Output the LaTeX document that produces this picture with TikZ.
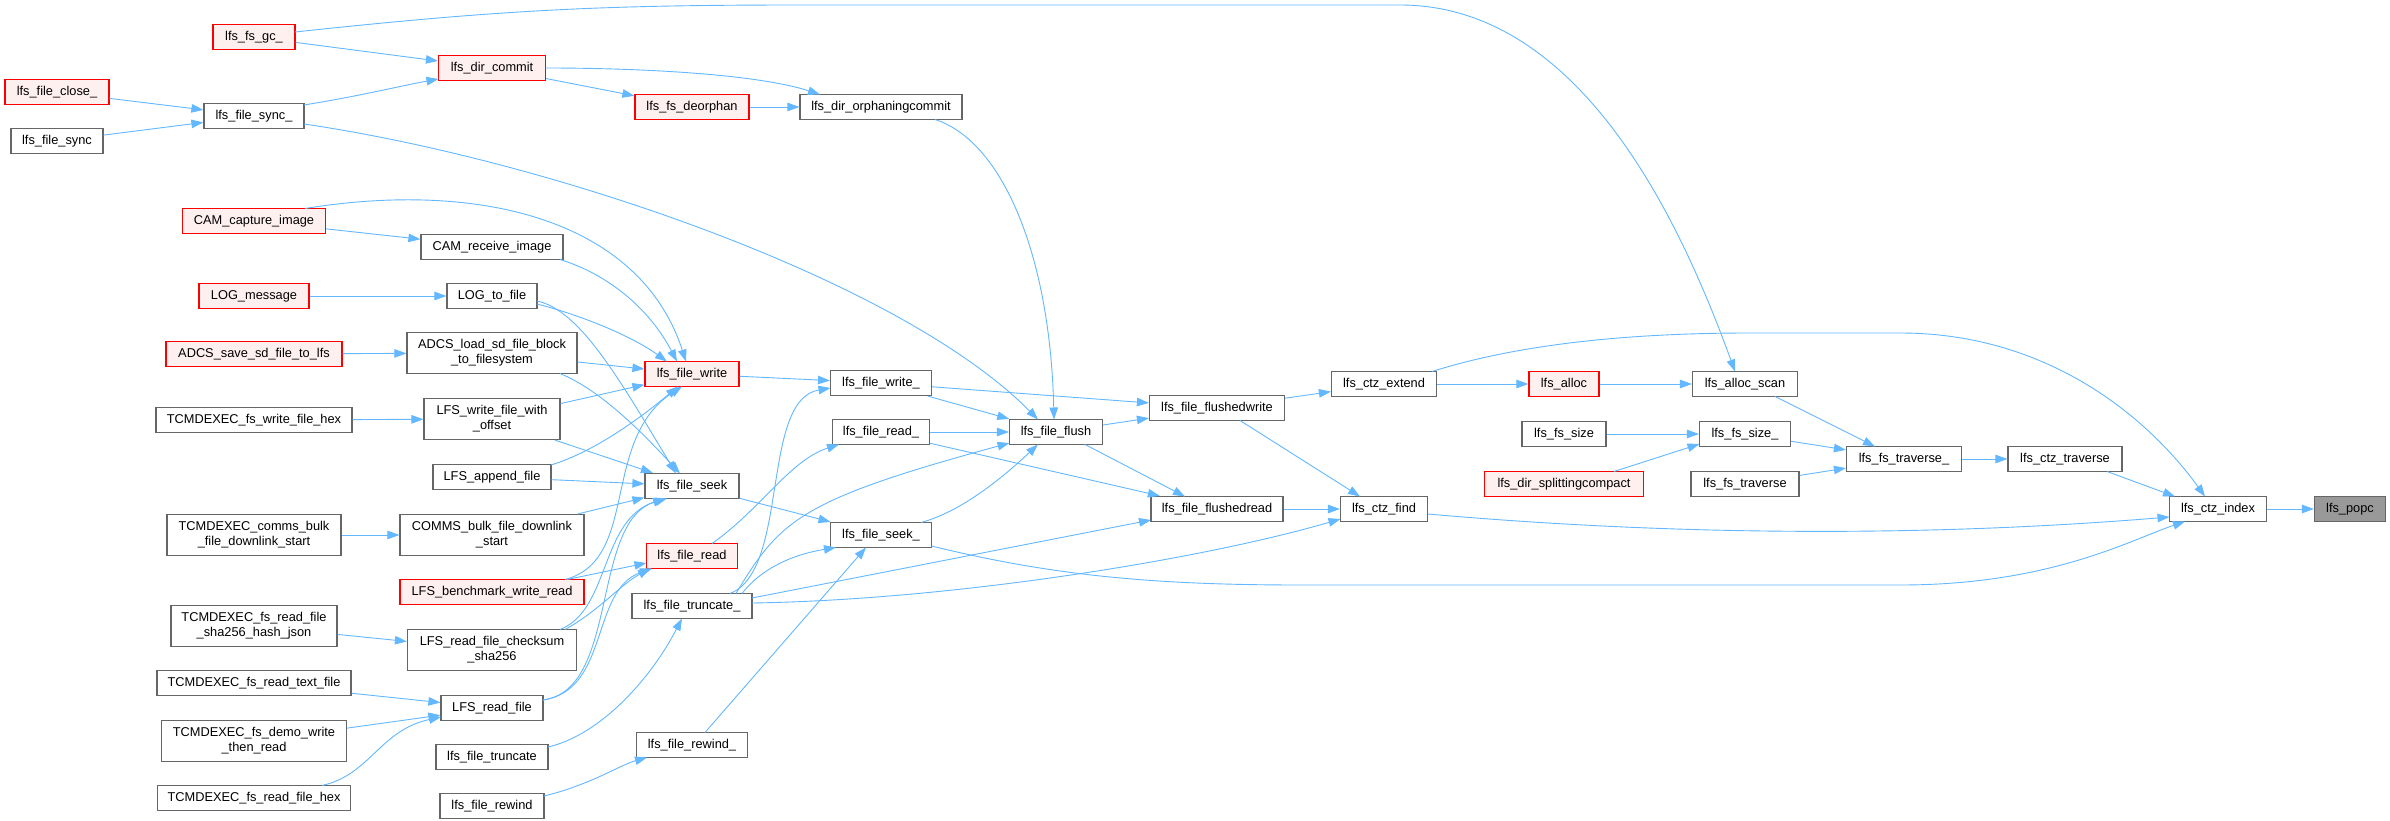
\documentclass[tikz,border=0pt]{standalone}
\usepackage{fontspec}
\setmainfont{Liberation Sans}
\usetikzlibrary{arrows.meta,calc}
\definecolor{edgeblue}{HTML}{63B8FF}
\definecolor{boxgray}{HTML}{666666}
\definecolor{redfill}{HTML}{FFF0F0}
\definecolor{curfill}{HTML}{999999}
\newcommand\dxfont{\fontsize{12.8}{15}\selectfont}
\tikzset{
  fn/.style={draw=boxgray, fill=white, line width=1.2pt, minimum height=25pt, inner sep=0pt, font=\dxfont, align=center, text=black},
  fntwo/.style={fn, minimum height=41pt},
  fnred/.style={fn, draw=red, fill=redfill},
  fncur/.style={fn, fill=curfill},
  edge/.style={draw=edgeblue, line width=0.9pt, -{Triangle[length=12pt,width=8.5pt]}}
}
\begin{document}
\begin{tikzpicture}[x=1pt,y=-1pt]
\useasboundingbox[fill=white] (0,0) rectangle (2390,821);
% column 1
\node[fnred, minimum width=82pt] (gc) at (254,37) {lfs\_fs\_gc\_};
\node[fnred, minimum width=104pt] (close) at (57,92) {lfs\_file\_close\_};
\node[fn, minimum width=92pt] (fsync) at (57,141) {lfs\_file\_sync};
\node[fn, minimum width=100pt] (sync_) at (254,116) {lfs\_file\_sync\_};
\node[fnred, minimum width=143pt] (camcap) at (254,221) {CAM\_capture\_image};
\node[fnred, minimum width=110pt] (logmsg) at (254,296) {LOG\_message};
\node[fnred, minimum width=176pt] (adcssave) at (254,354) {ADCS\_save\_sd\_file\_to\_lfs};
\node[fn, minimum width=196pt] (tcwrite) at (254,420) {TCMDEXEC\_fs\_write\_file\_hex};
\node[fntwo, minimum width=174pt] (tcbulk) at (254,535) {TCMDEXEC\_comms\_bulk\\\_file\_downlink\_start};
\node[fntwo, minimum width=166pt] (tcsha) at (254,626) {TCMDEXEC\_fs\_read\_file\\\_sha256\_hash\_json};
\node[fn, minimum width=194pt] (tctext) at (254,683) {TCMDEXEC\_fs\_read\_text\_file};
\node[fntwo, minimum width=185pt] (tcdemo) at (254,741) {TCMDEXEC\_fs\_demo\_write\\\_then\_read};
\node[fn, minimum width=193pt] (tchex) at (254,798) {TCMDEXEC\_fs\_read\_file\_hex};
% column 2
\node[fnred, minimum width=107pt] (dircommit) at (492,68) {lfs\_dir\_commit};
\node[fn, minimum width=142pt] (camrecv) at (492,247) {CAM\_receive\_image};
\node[fn, minimum width=90pt] (logfile) at (492,296) {LOG\_to\_file};
\node[fntwo, minimum width=170pt] (adcsload) at (492,353) {ADCS\_load\_sd\_file\_block\\\_to\_filesystem};
\node[fntwo, minimum width=136pt] (lfswo) at (492,419) {LFS\_write\_file\_with\\\_offset};
\node[fn, minimum width=118pt] (append) at (492,477) {LFS\_append\_file};
\node[fntwo, minimum width=184pt] (commsbulk) at (492,535) {COMMS\_bulk\_file\_downlink\\\_start};
\node[fnred, minimum width=184pt] (bench) at (492,592) {LFS\_benchmark\_write\_read};
\node[fntwo, minimum width=169pt] (checksum) at (492,650) {LFS\_read\_file\_checksum\\\_sha256};
\node[fn, minimum width=102pt] (readfile) at (492,708) {LFS\_read\_file};
\node[fn, minimum width=112pt] (trunc) at (492,757) {lfs\_file\_truncate};
\node[fn, minimum width=104pt] (rewind) at (492,806) {lfs\_file\_rewind};
% column 3
\node[fnred, minimum width=114pt] (deorphan) at (692,107) {lfs\_fs\_deorphan};
\node[fnred, minimum width=94pt] (fwrite) at (692,374) {lfs\_file\_write};
\node[fn, minimum width=94pt] (fseek) at (692,486) {lfs\_file\_seek};
\node[fnred, minimum width=91pt] (fread) at (692,556) {lfs\_file\_read};
\node[fn, minimum width=120pt] (trunc_) at (692,606) {lfs\_file\_truncate\_};
\node[fn, minimum width=111pt] (rewind_) at (692,745) {lfs\_file\_rewind\_};
% column 4
\node[fn, minimum width=162pt] (orphan) at (881,107) {lfs\_dir\_orphaningcommit};
\node[fn, minimum width=101pt] (write_) at (881,383) {lfs\_file\_write\_};
\node[fn, minimum width=97pt] (read_) at (881,432) {lfs\_file\_read\_};
\node[fn, minimum width=101pt] (seek_) at (881,535) {lfs\_file\_seek\_};
% column 5+
\node[fn, minimum width=93pt] (flush) at (1056,432) {lfs\_file\_flush};
\node[fn, minimum width=135pt] (fwd) at (1217,408) {lfs\_file\_flushedwrite};
\node[fn, minimum width=132pt] (frd) at (1217,509) {lfs\_file\_flushedread};
\node[fn, minimum width=105pt] (extend) at (1384,384) {lfs\_ctz\_extend};
\node[fn, minimum width=87pt] (find) at (1384,509) {lfs\_ctz\_find};
\node[fnred, minimum width=70pt] (alloc) at (1564,384) {lfs\_alloc};
\node[fn, minimum width=84pt] (fssize) at (1564,434) {lfs\_fs\_size};
\node[fnred, minimum width=159pt] (split) at (1564,484) {lfs\_dir\_splittingcompact};
\node[fn, minimum width=105pt] (allocscan) at (1745,384) {lfs\_alloc\_scan};
\node[fn, minimum width=91pt] (fssize_) at (1745,434) {lfs\_fs\_size\_};
\node[fn, minimum width=108pt] (fstrav) at (1745,484) {lfs\_fs\_traverse};
\node[fn, minimum width=115pt] (fstrav_) at (1904,459) {lfs\_fs\_traverse\_};
\node[fn, minimum width=114pt] (ctztrav) at (2065,459) {lfs\_ctz\_traverse};
\node[fn, minimum width=97pt] (ctzindex) at (2218,509) {lfs\_ctz\_index};
\node[fncur, minimum width=71pt] (popc) at (2350,509) {lfs\_popc};

% straight edges
\draw[edge] (close) -- (sync_);
\draw[edge] (fsync) -- (sync_);
\draw[edge] (gc) -- (dircommit);
\draw[edge] (dircommit) -- (deorphan);
\draw[edge] (deorphan) -- (orphan);
\draw[edge] (camcap) -- (camrecv);
\draw[edge] (logmsg) -- (logfile);
\draw[edge] (adcssave) -- (adcsload);
\draw[edge] (adcsload) -- (fwrite);
\draw[edge] (tcwrite) -- (lfswo);
\draw[edge] (lfswo) -- (fwrite);
\draw[edge] (lfswo) -- (fseek);
\draw[edge] (append) -- (fseek);
\draw[edge] (tcbulk) -- (commsbulk);
\draw[edge] (commsbulk) -- (fseek);
\draw[edge] (tcsha) -- (checksum);
\draw[edge] (tctext) -- (readfile);
\draw[edge] (tcdemo) -- (readfile);
\draw[edge] (fwrite) -- (write_);
\draw[edge] (fseek) -- (seek_);
\draw[edge] (write_) -- (flush);
\draw[edge] (write_) -- (fwd);
\draw[edge] (read_) -- (flush);
\draw[edge] (read_) -- (frd);
\draw[edge] (flush) -- (fwd);
\draw[edge] (fwd) -- (extend);
\draw[edge] (frd) -- (find);
\draw[edge] (extend) -- (alloc);
\draw[edge] (alloc) -- (allocscan);
\draw[edge] (fssize) -- (fssize_);
\draw[edge] (fssize_) -- (fstrav_);
\draw[edge] (fstrav) -- (fstrav_);
\draw[edge] (fstrav_) -- (ctztrav);
\draw[edge] (ctzindex) -- (popc);

% curved / offset edges
\draw[edge] ($(gc)+(41,-5)$) .. controls (500,10) and (600,5) .. (800,5) -- (1400,5) .. controls (1580,5) and (1680,220) .. ($(allocscan)+(-10,-12.5)$);
\draw[edge] ($(sync_)+(50,-11)$) .. controls (360,96) and (400,86) .. ($(dircommit)+(-53.5,11)$);
\draw[edge] ($(sync_)+(50,8)$) .. controls (550,160) and (900,280) .. ($(flush)+(-18,-12.5)$);
\draw[edge] ($(dircommit)+(53.5,0)$) .. controls (650,68) and (760,75) .. ($(orphan)+(-61,-12.5)$);
\draw[edge] ($(orphan)+(54,12.5)$) .. controls (1000,140) and (1050,250) .. ($(flush)+(-2,-12.5)$);
\draw[edge] ($(camcap)+(51,-12.5)$) .. controls (480,180) and (640,220) .. ($(fwrite)+(-6,-12.5)$);
\draw[edge] ($(camrecv)+(68,12.5)$) .. controls (610,275) and (650,310) .. ($(fwrite)+(-15,-12.5)$);
\draw[edge] ($(logfile)+(45,8)$) .. controls (580,315) and (630,335) .. ($(fwrite)+(-25,-12.5)$);
\draw[edge] ($(logfile)+(45,5)$) .. controls (580,310) and (620,380) .. ($(fseek)+(-16,-12.5)$);
\draw[edge] ($(adcsload)+(68,20.5)$) .. controls (600,390) and (640,430) .. ($(fseek)+(-12,-12.5)$);
\draw[edge] ($(append)+(59,-12)$) .. controls (600,450) and (650,410) .. ($(fwrite)+(-14,12.5)$);
\draw[edge] ($(bench)+(73,-12.5)$) .. controls (640,560) and (600,440) .. ($(fwrite)+(-10,12.5)$);
\draw[edge] ($(bench)+(75,-12.5)$) -- ($(fread)+(-45.5,7)$);
\draw[edge] ($(checksum)+(68,-20.5)$) .. controls (610,610) and (600,520) .. ($(fseek)+(-27,12.5)$);
\draw[edge] ($(readfile)+(51,-8)$) .. controls (620,690) and (590,520) .. ($(fseek)+(-25,12.5)$);
\draw[edge] ($(checksum)+(73,-20.5)$) .. controls (600,610) and (620,585) .. ($(fread)+(-42,12.5)$);
\draw[edge] ($(readfile)+(51,-8)$) .. controls (610,690) and (590,590) .. ($(fread)+(-40,12.5)$);
\draw[edge] ($(tchex)+(68,-12.5)$) .. controls (370,775) and (380,730) .. ($(readfile)+(-51,9)$);
\draw[edge] ($(trunc)+(56,-10)$) .. controls (600,735) and (650,680) .. ($(trunc_)+(-10,12.5)$);
\draw[edge] ($(rewind)+(52,-10)$) .. controls (590,785) and (620,765) .. ($(rewind_)+(-45,12.5)$);
\draw[edge] ($(fread)+(20,-12.5)$) .. controls (760,510) and (790,460) .. ($(read_)+(-42,12.5)$);
\draw[edge] ($(trunc_)+(38,-12.5)$) .. controls (790,570) and (760,400) .. ($(write_)+(-50.5,5)$);
\draw[edge] ($(trunc_)+(44,-12.5)$) .. controls (780,520) and (800,500) .. ($(flush)+(-46.5,11)$);
\draw[edge] ($(trunc_)+(50,-12.5)$) .. controls (760,570) and (790,555) .. ($(seek_)+(-45,12.5)$);
\draw[edge] ($(trunc_)+(60,-8)$) -- ($(frd)+(-66,11)$);
\draw[edge] ($(trunc_)+(60,-3)$) .. controls (950,600) and (1200,560) .. ($(find)+(-43.5,10)$);
\draw[edge] ($(rewind_)+(13,-12.5)$) -- ($(seek_)+(-15,12.5)$);
\draw[edge] ($(seek_)+(40,-12.5)$) .. controls (960,512) and (1000,480) .. ($(flush)+(-18,12.5)$);
\draw[edge] ($(seek_)+(50.5,11)$) .. controls (1050,575) and (1150,585) .. (1300,585) -- (1900,585) .. controls (2050,585) and (2130,540) .. ($(ctzindex)+(-33,12.5)$);
\draw[edge] ($(flush)+(29,12.5)$) -- ($(frd)+(-32,-12.5)$);
\draw[edge] ($(fwd)+(23,12.5)$) -- ($(find)+(-24,-12.5)$);
\draw[edge] ($(extend)+(48,-12.5)$) .. controls (1500,350) and (1600,333) .. (1750,333) -- (1900,333) .. controls (2050,333) and (2150,420) .. ($(ctzindex)+(-13,-12.5)$);
\draw[edge] ($(split)+(50,-12.5)$) -- ($(fssize_)+(-45.5,10)$);
\draw[edge] ($(allocscan)+(30,12.5)$) -- ($(fstrav_)+(-29,-12.5)$);
\draw[edge] ($(ctztrav)+(42,12.5)$) -- ($(ctzindex)+(-43,-12.5)$);
\draw[edge] ($(find)+(43.5,5)$) .. controls (1700,538) and (1950,535) .. ($(ctzindex)+(-48.5,8)$);
\end{tikzpicture}
\end{document}
